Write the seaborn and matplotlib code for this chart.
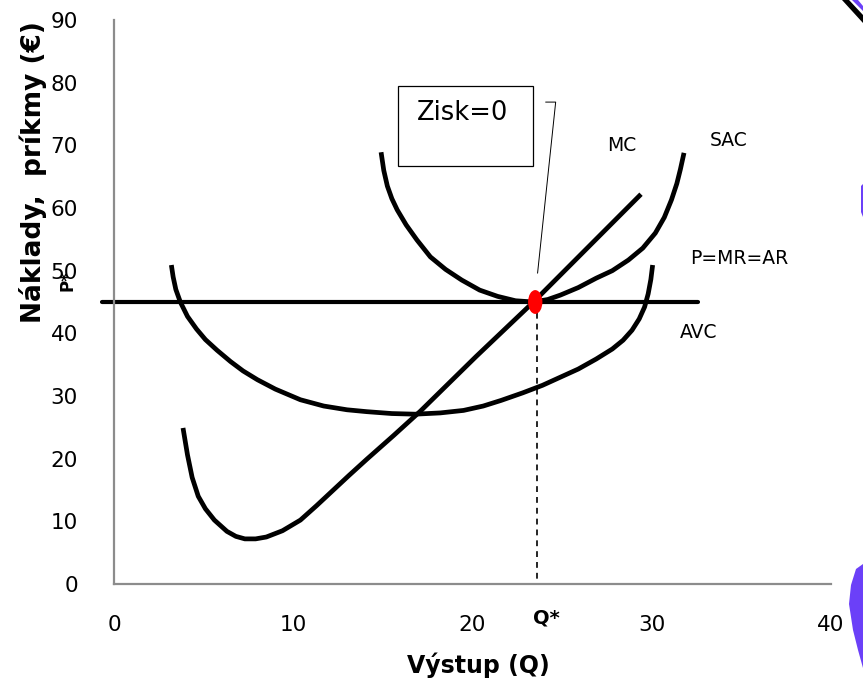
import numpy as np
import pandas as pd
import seaborn as sns
import matplotlib
matplotlib.use("Agg")
import matplotlib.pyplot as plt
from matplotlib.patches import Rectangle, Ellipse, Polygon

# ---- curve data (output Q, cost in €) ----
mc_q = [3.85, 4.1, 4.36, 4.7, 5.1, 5.6, 6.3, 6.8, 7.3, 7.9, 8.5, 9.4, 10.4, 11.3, 12.2,
        13.1, 14.1, 15.6, 17.1, 20.2, 23.4, 26.4, 29.4]
mc_c = [24.9, 20.6, 17.0, 14.0, 12.0, 10.2, 8.4, 7.6, 7.2, 7.2, 7.5, 8.5, 10.2, 12.5, 14.9,
        17.3, 19.9, 23.7, 27.6, 36.3, 45.0, 53.6, 62.2]

avc_q = [3.2, 3.3, 3.45, 3.7, 4.1, 4.6, 5.1, 5.75, 6.5, 7.2, 8.0, 9.0, 10.4, 11.7, 13.0,
         14.1, 15.5, 16.8, 18.2, 19.5, 20.6, 21.6, 22.8, 23.9, 24.9, 25.9, 26.9, 27.8,
         28.4, 28.9, 29.3, 29.6, 29.8, 29.95, 30.05]
avc_c = [50.9, 49.0, 47.0, 45.0, 42.7, 40.7, 39.0, 37.3, 35.5, 34.0, 32.6, 31.1, 29.4, 28.4,
         27.8, 27.5, 27.2, 27.1, 27.3, 27.7, 28.4, 29.3, 30.5, 31.7, 33.0, 34.3, 35.9, 37.5,
         38.9, 40.5, 42.3, 44.2, 46.3, 48.6, 50.9]

sac_q = [14.9, 15.05, 15.25, 15.5, 15.8, 16.3, 16.9, 17.65, 18.5, 19.4, 20.4, 21.4, 22.4,
         23.4, 24.2, 24.9, 25.9, 26.9, 27.8, 28.7, 29.5, 30.2, 30.7, 31.1, 31.4, 31.6, 31.8]
sac_c = [68.9, 66.0, 63.5, 61.5, 59.7, 57.3, 54.9, 52.2, 50.2, 48.5, 46.9, 45.9, 45.2,
         45.0, 45.4, 46.1, 47.3, 48.8, 50.0, 51.7, 53.6, 56.0, 58.5, 61.3, 63.9, 66.2, 68.8]

price_q = [-0.67, 32.6]
P_star = 45.0
Q_star = 23.6

x_ticks = [0, 10, 20, 30, 40]
y_ticks = [0, 10, 20, 30, 40, 50, 60, 70, 80, 90]

curves = pd.concat([
    pd.DataFrame({"Q": mc_q, "C": mc_c, "krivka": "MC"}),
    pd.DataFrame({"Q": avc_q, "C": avc_c, "krivka": "AVC"}),
    pd.DataFrame({"Q": sac_q, "C": sac_c, "krivka": "SAC"}),
], ignore_index=True)

sns.set_theme(style="white")
plt.rcParams["font.family"] = ["DejaVu Sans"]
plt.rcParams["text.color"] = "black"

fig = plt.figure(figsize=(8.63, 6.86), dpi=100)
ax = fig.add_axes([114 / 863, 1 - 584 / 686, (831 - 114) / 863, (584 - 20) / 686])

sns.lineplot(data=curves, x="Q", y="C", units="krivka", estimator=None, sort=False,
             color="black", linewidth=3.4, ax=ax, legend=False)
for ln in ax.lines:
    ln.set_solid_joinstyle("round")
    ln.set_solid_capstyle("butt")

# price line P = MR = AR
sns.lineplot(x=price_q, y=[P_star, P_star], color="black", linewidth=3.0,
             ax=ax, clip_on=False, legend=False)

# dashed drop line to Q*
ax.plot([Q_star, Q_star], [P_star, 0], color="black", linewidth=1.2,
        linestyle=(0, (3.5, 3)), zorder=2)

# equilibrium point
ax.add_patch(Ellipse((Q_star - 0.1, P_star), width=0.8, height=3.8,
                     facecolor="#ff0000", edgecolor="none", zorder=5))

ax.set_xlim(0, 40)
ax.set_ylim(0, 90)
ax.set_xticks(x_ticks)
ax.set_yticks(y_ticks)
ax.set_xlabel("")
ax.set_ylabel("")
for side in ("top", "right"):
    ax.spines[side].set_visible(False)
for side in ("left", "bottom"):
    ax.spines[side].set_color("#8c8c8c")
    ax.spines[side].set_linewidth(1.6)
ax.tick_params(axis="both", which="major", direction="out", length=7, width=1.6,
               color="#8c8c8c", labelsize=15.5, labelcolor="black")
ax.tick_params(axis="y", pad=19)
ax.tick_params(axis="x", pad=15.5)
ax.grid(False)

# curve labels
lab = dict(fontsize=13.5, ha="center", va="center", color="black")
ax.text(28.3, 70.0, "MC", **lab)
ax.text(34.3, 70.7, "SAC", **lab)
ax.text(34.9, 52.0, "P=MR=AR", **lab)
ax.text(32.6, 40.2, "AVC", **lab)

# callout box
ax.add_patch(Rectangle((15.87, 66.7), 23.4 - 15.87, 79.5 - 66.7, facecolor="white",
                       edgecolor="black", linewidth=0.9, zorder=4, clip_on=False))
ax.text(19.45, 75.2, "Zisk=0", fontsize=18.5, ha="center", va="center", zorder=6,
        color="black")
ax.plot([24.08, 24.64, 23.63], [76.9, 76.9, 49.6], color="black", linewidth=0.7, zorder=4)

# equilibrium labels
ax.annotate("P*", xy=(0, P_star), xytext=(-47, 21), textcoords="offset pixels",
            rotation=90, ha="center", va="center", fontsize=12, fontweight="bold",
            color="black", annotation_clip=False)
ax.annotate("Q*", xy=(Q_star, 0), xytext=(9, -34), textcoords="offset pixels",
            ha="center", va="center", fontsize=14, fontweight="bold",
            color="black", annotation_clip=False)

# axis titles
fig.text(33 / 863, 1 - 172 / 686, "Náklady,  príkmy (€)", rotation=90, ha="center",
         va="center", fontsize=19, fontweight="bold", color="black")
fig.text(478 / 863, 1 - 665 / 686, "Výstup (Q)", ha="center", va="center",
         fontsize=17, fontweight="bold", color="black")

# slide decorations at the right edge
purple = "#6b40f8"
W, H = 863, 686
def fpoly(pts, **kw):
    fig.patches.append(Polygon([(x / W, 1 - y / H) for x, y in pts], closed=True,
                               transform=fig.transFigure, figure=fig, **kw))
fpoly([(842, 0), (849, 0), (863, 15), (863, 23)], facecolor="black", edgecolor="none")
fpoly([(852, 0), (858, 0), (863, 6), (863, 11)], facecolor=purple, edgecolor="none")
fpoly([(861, 186), (863, 184), (863, 217), (861, 212)], facecolor=purple, edgecolor="none")
fpoly([(863, 564), (856, 569), (851, 585), (849, 604), (853, 630), (858, 650), (863, 668)],
      facecolor=purple, edgecolor="none")

fig.savefig("out.png", dpi=100)
